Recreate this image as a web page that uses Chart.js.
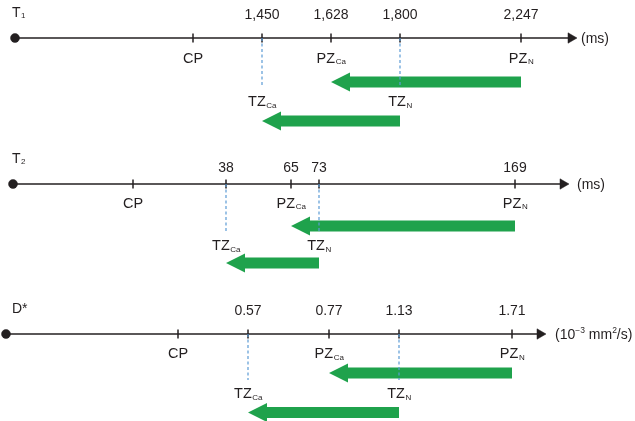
<!DOCTYPE html>
<html><head><meta charset="utf-8">
<script src="https://cdn.jsdelivr.net/npm/chart.js@4.4.1/dist/chart.umd.min.js"></script>
<style>html,body{margin:0;padding:0;background:#fff;overflow:hidden}</style>
</head><body>
<canvas id="c" width="635" height="421"></canvas>
<script>
// ---------------- data ----------------
const rowNames = ['T', 'T', 'D*'];
const rowSubs = ['1', '2', ''];
const zoneNames = ['CP', 'TZ', 'PZ', 'TZ', 'PZ'];
const zoneSubs = ['', 'Ca', 'Ca', 'N', 'N'];
const t1Values = ['', '1,450', '1,628', '1,800', '2,247'];
const t2Values = ['', '38', '65', '73', '169'];
const dValues = ['', '0.57', '0.77', '1.13', '1.71'];
// schematic positions of each zone marker along its number line (diagram units)
const t1Positions = [193, 262, 331, 400, 521];
const t2Positions = [133, 226, 291, 319, 515];
const dPositions = [178, 248, 329, 399, 512];
const lineStarts = [15, 13, 6];
const lineEnds = [571, 563, 540];
const rowLevels = [38, 184, 334];

// ---------------- layout / style ----------------
const valueLabels = [t1Values, t2Values, dValues];
const positions = [t1Positions, t2Positions, dPositions];
const valueOff = [-18.7, -12, -19];
const zoneOff = [24.5, 23.5, 24];
const tzOff = [68, 66, 64];
const dashLen = [49, 48, 46];
const upArrowOff = [44, 42, 39];
const lowArrowOff = [83, 79, 78.5];
const unitX = [581, 577, 555];
const INK = '#231f20';
const GREEN = '#1fa24c';
const BLUE = '#5b9bd5';
const FONT = '"Liberation Sans", Arial, sans-serif';

const datasets = [];
// dashed lines from TZ markers (drawn on top -> first)
positions.forEach((p, r) => {
  [1, 3].forEach(i => {
    datasets.push({
      type: 'line', data: [{x: p[i], y: rowLevels[r]}, {x: p[i], y: rowLevels[r] + dashLen[r]}],
      borderColor: BLUE, borderWidth: 1.2, borderDash: [3, 2.5], pointRadius: 0, fill: false
    });
  });
});
// axis lines with dot and arrowhead
rowLevels.forEach((y, r) => {
  datasets.push({
    type: 'line', data: [{x: lineStarts[r], y}, {x: lineEnds[r], y}],
    borderColor: INK, borderWidth: 1.6, fill: false,
    pointStyle: ['circle', 'triangle'], pointRadius: [4.5, 6], pointRotation: [0, 90],
    pointBackgroundColor: INK, pointBorderColor: INK, pointBorderWidth: 0.5
  });
});
// tick marks
positions.forEach((p, r) => {
  datasets.push({
    type: 'scatter', data: p.map(x => ({x, y: rowLevels[r]})),
    pointStyle: 'line', pointRotation: 90, pointRadius: 4.5,
    borderColor: INK, pointBorderColor: INK, pointBorderWidth: 1.5
  });
});

function drawSub(ctx, x, y, main, sub, size, subSize, align) {
  ctx.font = size + 'px ' + FONT;
  const w1 = ctx.measureText(main).width;
  ctx.font = subSize + 'px ' + FONT;
  const w2 = sub ? ctx.measureText(sub).width : 0;
  let x0 = align === 'left' ? x : x - (w1 + w2) / 2;
  ctx.textAlign = 'left';
  ctx.font = size + 'px ' + FONT;
  ctx.fillText(main, x0, y);
  if (sub) {
    ctx.font = subSize + 'px ' + FONT;
    ctx.fillText(sub, x0 + w1 + 0.5, y + 1.5);
  }
}

const arrowPlugin = {
  id: 'arrows',
  beforeDatasetsDraw(chart) {
    const {ctx, scales: {x: xs, y: ys}} = chart;
    ctx.save();
    ctx.fillStyle = GREEN;
    positions.forEach((p, r) => {
      const list = [[p[4], p[2], upArrowOff[r]], [p[3], p[1], lowArrowOff[r]]];
      list.forEach(([from, to, off]) => {
        const x1 = xs.getPixelForValue(from), x2 = xs.getPixelForValue(to);
        const y = ys.getPixelForValue(rowLevels[r] + off);
        const hl = 19, hh = 9.5, bh = 5.6;
        ctx.beginPath();
        ctx.moveTo(x1, y - bh);
        ctx.lineTo(x2 + hl, y - bh);
        ctx.lineTo(x2 + hl, y - hh);
        ctx.lineTo(x2, y);
        ctx.lineTo(x2 + hl, y + hh);
        ctx.lineTo(x2 + hl, y + bh);
        ctx.lineTo(x1, y + bh);
        ctx.closePath();
        ctx.fill();
      });
    });
    ctx.restore();
  }
};

const textPlugin = {
  id: 'texts',
  afterDatasetsDraw(chart) {
    const {ctx, scales: {x: xs, y: ys}} = chart;
    ctx.save();
    ctx.fillStyle = INK;
    ctx.textBaseline = 'alphabetic';
    positions.forEach((p, r) => {
      const yA = rowLevels[r];
      // row title
      drawSub(ctx, xs.getPixelForValue(12), ys.getPixelForValue(yA - 21.5), rowNames[r], rowSubs[r], 14, 8, 'left');
      // values above
      valueLabels[r].forEach((v, i) => {
        if (!v) return;
        ctx.font = '14px ' + FONT; ctx.textAlign = 'center';
        ctx.fillText(v, xs.getPixelForValue(p[i]), ys.getPixelForValue(yA + valueOff[r]));
      });
      // zone labels
      zoneNames.forEach((z, i) => {
        const isTZ = (i === 1 || i === 3);
        const yy = yA + (isTZ ? tzOff[r] : zoneOff[r]);
        drawSub(ctx, xs.getPixelForValue(p[i]), ys.getPixelForValue(yy), z, zoneSubs[i], 14.5, 8, 'center');
      });
      // units
      const ux = xs.getPixelForValue(unitX[r]);
      const uy = ys.getPixelForValue(yA + 4.5);
      ctx.textAlign = 'left';
      if (r < 2) {
        ctx.font = '14px ' + FONT;
        ctx.fillText('(ms)', ux, uy);
      } else {
        let x = ux;
        const parts = [['(10', 14, 0], ['−3', 8.5, -6], [' mm', 14, 0], ['2', 8.5, -6], ['/s)', 14, 0]];
        parts.forEach(([t, s, dy]) => {
          ctx.font = s + 'px ' + FONT;
          ctx.fillText(t, x, uy + dy);
          x += ctx.measureText(t).width;
        });
      }
    });
    ctx.restore();
  }
};

new Chart(document.getElementById('c'), {
  type: 'scatter',
  data: {datasets},
  options: {
    responsive: false, animation: false, events: [],
    layout: {padding: 0, autoPadding: false},
    plugins: {legend: {display: false}, tooltip: {enabled: false}},
    scales: {
      x: {type: 'linear', min: 0, max: 635, display: false},
      y: {type: 'linear', min: 0, max: 421, reverse: true, display: false}
    }
  },
  plugins: [arrowPlugin, textPlugin]
});
</script>
</body></html>
